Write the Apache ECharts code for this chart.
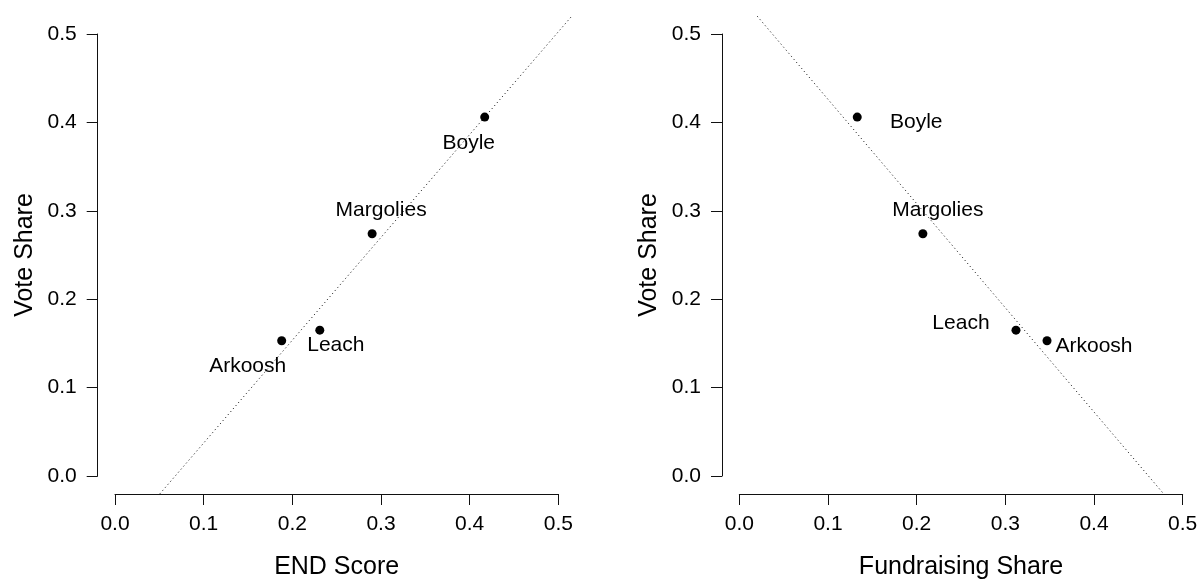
<!DOCTYPE html>
<html>
<head>
<meta charset="utf-8">
<script src="https://cdn.jsdelivr.net/npm/echarts@6/dist/echarts.min.js"></script>
<style>
html,body{margin:0;padding:0;background:#fff;}
#chart{width:1200px;height:580px;}
</style>
</head>
<body>
<div id="chart"></div>
<script>
// ---- data ----
const candidates = ['Boyle', 'Margolies', 'Leach', 'Arkoosh'];
const voteShare = [0.406, 0.274, 0.165, 0.153];
const endScore = [0.417, 0.290, 0.231, 0.188];
const fundraisingShare = [0.133, 0.207, 0.312, 0.347];
// fitted lines (intercept, slope)
const endFit = [-0.079, 1.163];
const fundFit = [0.544, -1.179];
const tickValues = [0.0, 0.1, 0.2, 0.3, 0.4, 0.5];
const xTitles = ['END Score', 'Fundraising Share'];
const yTitle = 'Vote Share';

// ---- styling / layout ----
const FONT = '"Liberation Sans", Arial, Helvetica, sans-serif';
const LO = tickValues[0], HI = tickValues[tickValues.length - 1];
const pad = (HI - LO) * 0.04; // R-style 4% extension of the plot region
const labelOffsets = [
  {Boyle: [-16, 26], Margolies: [9, -24], Leach: [16, 15], Arkoosh: [-34, 25]},
  {Boyle: [59, 5], Margolies: [15, -24], Leach: [-55, -7], Arkoosh: [47, 5]}
];
const panels = [
  {left: 115, top: 34, width: 443.3, height: 442},
  {left: 739.3, top: 34, width: 443.4, height: 442}
];

function clipLine(a, b, lo, hi) {
  const pts = [];
  const yl = a + b * lo, yh = a + b * hi;
  if (yl >= lo && yl <= hi) pts.push([lo, yl]);
  if (yh >= lo && yh <= hi) pts.push([hi, yh]);
  const xl = (lo - a) / b, xh = (hi - a) / b;
  if (xl > lo && xl < hi) pts.push([xl, lo]);
  if (xh > lo && xh < hi) pts.push([xh, hi]);
  pts.sort((p, q) => p[0] - q[0]);
  return [pts[0], pts[pts.length - 1]];
}

const axisCommon = {
  type: 'value', min: LO, max: HI, interval: 0.1,
  axisLine: {show: true, onZero: false, lineStyle: {color: '#111', width: 1}},
  axisTick: {show: true, length: 11, lineStyle: {color: '#111', width: 1}},
  splitLine: {show: false},
  axisLabel: {color: '#000', fontFamily: FONT, fontSize: 21,
    formatter: v => v.toFixed(1)},
  nameLocation: 'middle',
  nameTextStyle: {color: '#000', fontFamily: FONT, fontSize: 25}
};
const hiddenAxis = {
  type: 'value', min: LO - pad, max: HI + pad, show: false,
  axisLine: {show: false, onZero: false}, splitLine: {show: false}
};

const grids = [], xAxes = [], yAxes = [], series = [];
const xs = [endScore, fundraisingShare];
const fits = [endFit, fundFit];
for (let i = 0; i < 2; i++) {
  const p = panels[i];
  const ex = p.width * pad / (HI - LO), ey = p.height * pad / (HI - LO);
  grids.push({left: p.left, top: p.top, width: p.width, height: p.height,
    containLabel: false, outerBoundsMode: 'none'});
  grids.push({left: p.left - ex, top: p.top - ey, width: p.width + 2 * ex, height: p.height + 2 * ey,
    containLabel: false, outerBoundsMode: 'none'});
  const gMain = 2 * i, gExt = 2 * i + 1;
  xAxes.push(Object.assign({}, axisCommon, {
    gridIndex: gMain, position: 'bottom', offset: 18, name: xTitles[i], nameGap: 61,
    axisLabel: Object.assign({}, axisCommon.axisLabel, {margin: 20})
  }));
  yAxes.push(Object.assign({}, axisCommon, {
    gridIndex: gMain, position: 'left', offset: 17.3, name: yTitle, nameGap: 60,
    axisLabel: Object.assign({}, axisCommon.axisLabel, {margin: 21})
  }));
  xAxes.push(Object.assign({}, hiddenAxis, {gridIndex: gExt}));
  yAxes.push(Object.assign({}, hiddenAxis, {gridIndex: gExt}));
  series.push({
    type: 'line', xAxisIndex: gExt, yAxisIndex: gExt, silent: true,
    symbol: 'none', data: clipLine(fits[i][0], fits[i][1], LO - pad, HI + pad),
    lineStyle: {color: '#000', width: 1, type: [1, 3]}, z: 1
  });
  series.push({
    type: 'scatter', xAxisIndex: gMain, yAxisIndex: gMain, symbol: 'circle', symbolSize: 9,
    itemStyle: {color: '#000', opacity: 1}, z: 3,
    data: candidates.map((c, k) => ({
      name: c, value: [xs[i][k], voteShare[k]],
      label: {show: true, position: 'inside', offset: labelOffsets[i][c],
        formatter: c, color: '#000', opacity: 1, fontFamily: FONT, fontSize: 21,
        align: 'center', verticalAlign: 'middle'}
    }))
  });
}

const chart = echarts.init(document.getElementById('chart'), null, {renderer: 'canvas'});
chart.setOption({
  animation: false,
  backgroundColor: '#fff',
  grid: grids,
  xAxis: xAxes,
  yAxis: yAxes,
  series: series
});
</script>
</body>
</html>
